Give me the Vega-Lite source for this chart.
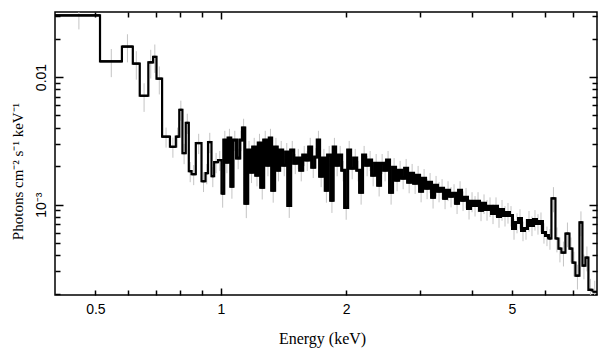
{
"$schema": "https://vega.github.io/schema/vega-lite/v6.json",
"width": 542, "height": 283,
"autosize": "none",
"padding": {"left": 55, "top": 12, "right": 11, "bottom": 62},
"background": "white",
"config": {"view": {"stroke": "#000", "strokeWidth": 1.5}, "axis": {"grid": false, "domain": false}},
"data": {"values": [
{"lo":0.400,"hi":0.513,"e":0.4565,"f":0.0304,"s":0.0068},
{"lo":0.513,"hi":0.579,"e":0.546,"f":0.01327,"s":0.0033},
{"lo":0.579,"hi":0.615,"e":0.597,"f":0.01732,"s":0.0043},
{"lo":0.615,"hi":0.639,"e":0.627,"f":0.01273,"s":0.0032},
{"lo":0.639,"hi":0.670,"e":0.6545,"f":0.00713,"s":0.0018},
{"lo":0.670,"hi":0.688,"e":0.679,"f":0.01303,"s":0.0033},
{"lo":0.688,"hi":0.701,"e":0.6945,"f":0.01437,"s":0.0036},
{"lo":0.701,"hi":0.723,"e":0.712,"f":0.00970,"s":0.0024},
{"lo":0.723,"hi":0.755,"e":0.739,"f":0.003406,"s":0.00061},
{"lo":0.755,"hi":0.780,"e":0.7675,"f":0.002841,"s":0.00051},
{"lo":0.780,"hi":0.795,"e":0.7875,"f":0.003406,"s":0.00061},
{"lo":0.795,"hi":0.809,"e":0.802,"f":0.00553,"s":0.0010},
{"lo":0.809,"hi":0.824,"e":0.8165,"f":0.002535,"s":0.00046},
{"lo":0.824,"hi":0.838,"e":0.831,"f":0.004367,"s":0.00079},
{"lo":0.838,"hi":0.851,"e":0.8445,"f":0.001829,"s":0.00033},
{"lo":0.851,"hi":0.871,"e":0.861,"f":0.001732,"s":0.00031},
{"lo":0.871,"hi":0.899,"e":0.885,"f":0.003039,"s":0.00055},
{"lo":0.899,"hi":0.919,"e":0.909,"f":0.001525,"s":0.00027},
{"lo":0.919,"hi":0.932,"e":0.9255,"f":0.001764,"s":0.00032},
{"lo":0.932,"hi":0.950,"e":0.941,"f":0.003094,"s":0.00056},
{"lo":0.950,"hi":0.964,"e":0.957,"f":0.001671,"s":0.00030},
{"lo":0.964,"hi":0.985,"e":0.9745,"f":0.002153,"s":0.00039},
{"lo":0.985,"hi":1.004,"e":0.9945,"f":0.002233,"s":0.00040},
{"lo":1.004,"hi":1.017,"e":1.0105,"f":0.001227,"s":0.00028},
{"lo":1.017,"hi":1.028,"e":1.0225,"f":0.003208,"s":0.00058},
{"lo":1.028,"hi":1.041,"e":1.0345,"f":0.002153,"s":0.00039},
{"lo":1.041,"hi":1.057,"e":1.049,"f":0.003327,"s":0.00060},
{"lo":1.057,"hi":1.070,"e":1.0635,"f":0.001393,"s":0.00028},
{"lo":1.070,"hi":1.091,"e":1.0805,"f":0.003208,"s":0.00058},
{"lo":1.091,"hi":1.111,"e":1.101,"f":0.002315,"s":0.00042},
{"lo":1.111,"hi":1.127,"e":1.119,"f":0.003208,"s":0.00058},
{"lo":1.127,"hi":1.142,"e":1.1345,"f":0.003989,"s":0.00072},
{"lo":1.142,"hi":1.161,"e":1.1515,"f":0.001024,"s":0.00024},
{"lo":1.161,"hi":1.177,"e":1.169,"f":0.002677,"s":0.00048},
{"lo":1.177,"hi":1.193,"e":1.185,"f":0.001796,"s":0.00032},
{"lo":1.193,"hi":1.213,"e":1.203,"f":0.002826,"s":0.00051},
{"lo":1.213,"hi":1.230,"e":1.2215,"f":0.001701,"s":0.00031},
{"lo":1.230,"hi":1.247,"e":1.2385,"f":0.003039,"s":0.00055},
{"lo":1.247,"hi":1.268,"e":1.2575,"f":0.001368,"s":0.00027},
{"lo":1.268,"hi":1.289,"e":1.2785,"f":0.003208,"s":0.00058},
{"lo":1.289,"hi":1.307,"e":1.298,"f":0.002039,"s":0.00037},
{"lo":1.307,"hi":1.325,"e":1.316,"f":0.003327,"s":0.00060},
{"lo":1.325,"hi":1.347,"e":1.336,"f":0.001296,"s":0.00026},
{"lo":1.347,"hi":1.366,"e":1.3565,"f":0.002826,"s":0.00051},
{"lo":1.366,"hi":1.385,"e":1.3755,"f":0.001862,"s":0.00034},
{"lo":1.385,"hi":1.408,"e":1.3965,"f":0.002677,"s":0.00048},
{"lo":1.408,"hi":1.432,"e":1.42,"f":0.002039,"s":0.00037},
{"lo":1.432,"hi":1.448,"e":1.44,"f":0.002581,"s":0.00046},
{"lo":1.448,"hi":1.472,"e":1.46,"f":0.000987,"s":0.00020},
{"lo":1.472,"hi":1.497,"e":1.4845,"f":0.002677,"s":0.00048},
{"lo":1.497,"hi":1.522,"e":1.5095,"f":0.002114,"s":0.00038},
{"lo":1.522,"hi":1.547,"e":1.5345,"f":0.002315,"s":0.00042},
{"lo":1.547,"hi":1.573,"e":1.56,"f":0.001862,"s":0.00034},
{"lo":1.573,"hi":1.599,"e":1.586,"f":0.002445,"s":0.00044},
{"lo":1.599,"hi":1.626,"e":1.6125,"f":0.002233,"s":0.00040},
{"lo":1.626,"hi":1.653,"e":1.6395,"f":0.002826,"s":0.00051},
{"lo":1.653,"hi":1.681,"e":1.667,"f":0.001966,"s":0.00035},
{"lo":1.681,"hi":1.704,"e":1.6925,"f":0.002358,"s":0.00042},
{"lo":1.704,"hi":1.727,"e":1.7155,"f":0.003208,"s":0.00058},
{"lo":1.727,"hi":1.756,"e":1.7415,"f":0.001671,"s":0.00030},
{"lo":1.756,"hi":1.781,"e":1.7685,"f":0.002315,"s":0.00042},
{"lo":1.781,"hi":1.805,"e":1.793,"f":0.001296,"s":0.00026},
{"lo":1.805,"hi":1.836,"e":1.8205,"f":0.002445,"s":0.00044},
{"lo":1.836,"hi":1.861,"e":1.8485,"f":0.001081,"s":0.00022},
{"lo":1.861,"hi":1.887,"e":1.874,"f":0.002826,"s":0.00051},
{"lo":1.887,"hi":1.918,"e":1.9025,"f":0.002039,"s":0.00037},
{"lo":1.918,"hi":1.951,"e":1.9345,"f":0.002445,"s":0.00044},
{"lo":1.951,"hi":1.983,"e":1.967,"f":0.001862,"s":0.00034},
{"lo":1.983,"hi":2.017,"e":2.0,"f":0.000952,"s":0.00019},
{"lo":2.017,"hi":2.050,"e":2.0335,"f":0.002677,"s":0.00048},
{"lo":2.050,"hi":2.085,"e":2.0675,"f":0.001931,"s":0.00035},
{"lo":2.085,"hi":2.120,"e":2.1025,"f":0.002315,"s":0.00042},
{"lo":2.120,"hi":2.154,"e":2.137,"f":0.001862,"s":0.00034},
{"lo":2.154,"hi":2.190,"e":2.172,"f":0.001250,"s":0.00025},
{"lo":2.190,"hi":2.227,"e":2.2085,"f":0.002445,"s":0.00044},
{"lo":2.227,"hi":2.264,"e":2.2455,"f":0.002039,"s":0.00037},
{"lo":2.264,"hi":2.302,"e":2.283,"f":0.002233,"s":0.00040},
{"lo":2.302,"hi":2.341,"e":2.3215,"f":0.001701,"s":0.00031},
{"lo":2.341,"hi":2.380,"e":2.3605,"f":0.002114,"s":0.00038},
{"lo":2.380,"hi":2.419,"e":2.3995,"f":0.001419,"s":0.00026},
{"lo":2.419,"hi":2.460,"e":2.4395,"f":0.002114,"s":0.00038},
{"lo":2.460,"hi":2.500,"e":2.48,"f":0.001862,"s":0.00034},
{"lo":2.500,"hi":2.542,"e":2.521,"f":0.002233,"s":0.00040},
{"lo":2.542,"hi":2.585,"e":2.5635,"f":0.001250,"s":0.00025},
{"lo":2.585,"hi":2.628,"e":2.6065,"f":0.001966,"s":0.00035},
{"lo":2.628,"hi":2.672,"e":2.65,"f":0.001553,"s":0.00028},
{"lo":2.672,"hi":2.717,"e":2.6945,"f":0.001862,"s":0.00034},
{"lo":2.717,"hi":2.763,"e":2.74,"f":0.001611,"s":0.00029},
{"lo":2.763,"hi":2.809,"e":2.786,"f":0.001931,"s":0.00035},
{"lo":2.809,"hi":2.856,"e":2.8325,"f":0.001498,"s":0.00027},
{"lo":2.856,"hi":2.903,"e":2.8795,"f":0.001764,"s":0.00032},
{"lo":2.903,"hi":2.952,"e":2.9275,"f":0.001472,"s":0.00026},
{"lo":2.952,"hi":3.001,"e":2.9765,"f":0.001701,"s":0.00031},
{"lo":3.001,"hi":3.051,"e":3.026,"f":0.001273,"s":0.00023},
{"lo":3.051,"hi":3.102,"e":3.0765,"f":0.001611,"s":0.00029},
{"lo":3.102,"hi":3.154,"e":3.128,"f":0.001344,"s":0.00024},
{"lo":3.154,"hi":3.206,"e":3.18,"f":0.001498,"s":0.00027},
{"lo":3.206,"hi":3.260,"e":3.233,"f":0.001142,"s":0.00021},
{"lo":3.260,"hi":3.314,"e":3.287,"f":0.001419,"s":0.00026},
{"lo":3.314,"hi":3.370,"e":3.342,"f":0.001273,"s":0.00023},
{"lo":3.370,"hi":3.426,"e":3.398,"f":0.001344,"s":0.00024},
{"lo":3.426,"hi":3.483,"e":3.4545,"f":0.001121,"s":0.00020},
{"lo":3.483,"hi":3.541,"e":3.512,"f":0.001296,"s":0.00023},
{"lo":3.541,"hi":3.600,"e":3.5705,"f":0.001162,"s":0.00021},
{"lo":3.600,"hi":3.661,"e":3.6305,"f":0.001227,"s":0.00022},
{"lo":3.661,"hi":3.722,"e":3.6915,"f":0.001024,"s":0.00018},
{"lo":3.722,"hi":3.784,"e":3.753,"f":0.001296,"s":0.00023},
{"lo":3.784,"hi":3.847,"e":3.8155,"f":0.001081,"s":0.00019},
{"lo":3.847,"hi":3.911,"e":3.879,"f":0.001142,"s":0.00021},
{"lo":3.911,"hi":3.977,"e":3.944,"f":0.000935,"s":0.00017},
{"lo":3.977,"hi":4.043,"e":4.01,"f":0.001062,"s":0.00019},
{"lo":4.043,"hi":4.111,"e":4.077,"f":0.000987,"s":0.00018},
{"lo":4.111,"hi":4.179,"e":4.145,"f":0.001062,"s":0.00019},
{"lo":4.179,"hi":4.249,"e":4.214,"f":0.000902,"s":0.00016},
{"lo":4.249,"hi":4.320,"e":4.2845,"f":0.001024,"s":0.00018},
{"lo":4.320,"hi":4.392,"e":4.356,"f":0.000918,"s":0.00017},
{"lo":4.392,"hi":4.466,"e":4.429,"f":0.000970,"s":0.00017},
{"lo":4.466,"hi":4.540,"e":4.503,"f":0.000854,"s":0.00015},
{"lo":4.540,"hi":4.616,"e":4.578,"f":0.000970,"s":0.00017},
{"lo":4.616,"hi":4.693,"e":4.6545,"f":0.000809,"s":0.00015},
{"lo":4.693,"hi":4.772,"e":4.7325,"f":0.000918,"s":0.00017},
{"lo":4.772,"hi":4.851,"e":4.8115,"f":0.000824,"s":0.00015},
{"lo":4.851,"hi":4.932,"e":4.8915,"f":0.000870,"s":0.00016},
{"lo":4.932,"hi":5.015,"e":4.9735,"f":0.000824,"s":0.00015},
{"lo":5.015,"hi":5.099,"e":5.057,"f":0.000651,"s":0.00012},
{"lo":5.099,"hi":5.184,"e":5.1415,"f":0.000726,"s":0.00013},
{"lo":5.184,"hi":5.270,"e":5.227,"f":0.000780,"s":0.00014},
{"lo":5.270,"hi":5.358,"e":5.314,"f":0.000627,"s":0.00011},
{"lo":5.358,"hi":5.448,"e":5.403,"f":0.000651,"s":0.00012},
{"lo":5.448,"hi":5.539,"e":5.4935,"f":0.000752,"s":0.00014},
{"lo":5.539,"hi":5.631,"e":5.585,"f":0.000687,"s":0.00012},
{"lo":5.631,"hi":5.725,"e":5.678,"f":0.000766,"s":0.00014},
{"lo":5.725,"hi":5.821,"e":5.773,"f":0.000712,"s":0.00013},
{"lo":5.821,"hi":5.918,"e":5.8695,"f":0.000739,"s":0.00013},
{"lo":5.918,"hi":6.017,"e":5.9675,"f":0.000605,"s":0.00011},
{"lo":6.017,"hi":6.117,"e":6.067,"f":0.000573,"s":0.00010},
{"lo":6.117,"hi":6.219,"e":6.168,"f":0.000543,"s":0.00010},
{"lo":6.219,"hi":6.358,"e":6.2885,"f":0.001121,"s":0.00025},
{"lo":6.358,"hi":6.464,"e":6.411,"f":0.000543,"s":0.00012},
{"lo":6.464,"hi":6.572,"e":6.518,"f":0.000453,"s":0.00010},
{"lo":6.572,"hi":6.719,"e":6.6455,"f":0.000421,"s":0.000093},
{"lo":6.719,"hi":6.870,"e":6.7945,"f":0.000594,"s":0.00013},
{"lo":6.870,"hi":6.984,"e":6.927,"f":0.000453,"s":0.00010},
{"lo":6.984,"hi":7.101,"e":7.0425,"f":0.000351,"s":0.000077},
{"lo":7.101,"hi":7.260,"e":7.1805,"f":0.0002775,"s":0.000061},
{"lo":7.260,"hi":7.381,"e":7.3205,"f":0.000726,"s":0.00016},
{"lo":7.381,"hi":7.504,"e":7.4425,"f":0.000333,"s":0.000073},
{"lo":7.504,"hi":7.629,"e":7.5665,"f":0.000385,"s":0.000085},
{"lo":7.629,"hi":7.800,"e":7.7145,"f":0.0002153,"s":0.000047},
{"lo":7.800,"hi":8.000,"e":7.9,"f":0.0002077,"s":0.000046}
]},
"resolve": {"axis": {"x": "independent", "y": "independent"}},
"layer": [
{
"mark": {"type": "errorbar", "color": "#c4c4c4", "thickness": 1, "clip": true},
"encoding": {
"x": {"field": "e", "type": "quantitative",
 "scale": {"type": "log", "domain": [0.4, 8], "nice": false, "zero": false},
 "axis": {"orient": "bottom", "values": [0.5, 1, 2, 5], "ticks": false,
  "labelExpr": "datum.value == 0.5 ? '0.5' : datum.value == 1 ? '1' : datum.value == 2 ? '2' : '5'",
  "labelFont": "Liberation Sans", "labelFontSize": 14, "labelColor": "#000", "labelPadding": 7, "labelBaseline": "top",
  "title": "Energy (keV)", "titleFont": "Liberation Serif", "titleFontSize": 16, "titleFontWeight": "normal", "titleColor": "#000",
  "titleBaseline": "alphabetic", "titleX": 267, "titleY": 48}},
"y": {"field": "f", "type": "quantitative",
 "scale": {"type": "log", "domain": [0.000196, 0.0323], "nice": false, "zero": false},
 "axis": {"orient": "left", "values": [0.001, 0.01], "ticks": false,
  "labelExpr": "datum.value < 0.005 ? '10⁻³' : '0.01'",
  "labelFont": "Liberation Sans", "labelFontSize": 14, "labelColor": "#000", "labelPadding": 7,
  "labelAngle": 270, "labelAlign": "center", "labelBaseline": "bottom",
  "title": "Photons cm⁻² s⁻¹ keV⁻¹", "titleFont": "Liberation Serif", "titleFontSize": 15, "titleFontWeight": "normal", "titleColor": "#000",
  "titleAngle": 270, "titleBaseline": "middle", "titleAlign": "center", "titleX": -37.5, "titleY": 159}},
"yError": {"field": "s"}
}
},
{
"mark": {"type": "rule", "color": "#000", "strokeWidth": 2.2, "clip": true},
"encoding": {
"x": {"field": "lo", "type": "quantitative",
 "axis": {"orient": "bottom", "values": [0.5, 0.6, 0.7, 0.8, 0.9, 1, 2, 3, 4, 5, 6, 7], "labels": false, "title": null,
  "tickColor": "#000", "tickWidth": 1.5,
  "tickSize": {"condition": {"test": "datum.value == 1", "value": -7}, "value": -5}}},
"x2": {"field": "hi"},
"y": {"field": "f", "type": "quantitative",
 "axis": {"orient": "left", "values": [0.0002, 0.0003, 0.0004, 0.0005, 0.0006, 0.0007, 0.0008, 0.0009, 0.001, 0.002, 0.003, 0.004, 0.005, 0.006, 0.007, 0.008, 0.009, 0.01, 0.02, 0.03],
  "labels": false, "title": null, "tickColor": "#000", "tickWidth": 1.5,
  "tickSize": {"condition": {"test": "datum.value == 0.001 || datum.value == 0.01", "value": -8}, "value": -5}}}
}
},
{
"mark": {"type": "line", "color": "#000", "strokeWidth": 2.2, "interpolate": "step-after", "clip": true},
"encoding": {
"x": {"field": "lo", "type": "quantitative",
 "axis": {"orient": "top", "values": [0.5, 0.6, 0.7, 0.8, 0.9, 1, 2, 3, 4, 5, 6, 7], "labels": false, "title": null,
  "tickColor": "#000", "tickWidth": 1.5,
  "tickSize": {"condition": {"test": "datum.value == 1", "value": -7}, "value": -5}}},
"y": {"field": "f", "type": "quantitative",
 "axis": {"orient": "right", "values": [0.0002, 0.0003, 0.0004, 0.0005, 0.0006, 0.0007, 0.0008, 0.0009, 0.001, 0.002, 0.003, 0.004, 0.005, 0.006, 0.007, 0.008, 0.009, 0.01, 0.02, 0.03],
  "labels": false, "title": null, "tickColor": "#000", "tickWidth": 1.5,
  "tickSize": {"condition": {"test": "datum.value == 0.001 || datum.value == 0.01", "value": -8}, "value": -5}}}
}
},
{
"transform": [{"filter": "datum.lo >= 1.0 && datum.lo <= 6.2"}],
"mark": {"type": "line", "color": "#000", "strokeWidth": 3, "interpolate": "step-after", "clip": true},
"encoding": {
"x": {"field": "lo", "type": "quantitative", "axis": null},
"y": {"field": "f", "type": "quantitative", "axis": null}
}
}
]
}
